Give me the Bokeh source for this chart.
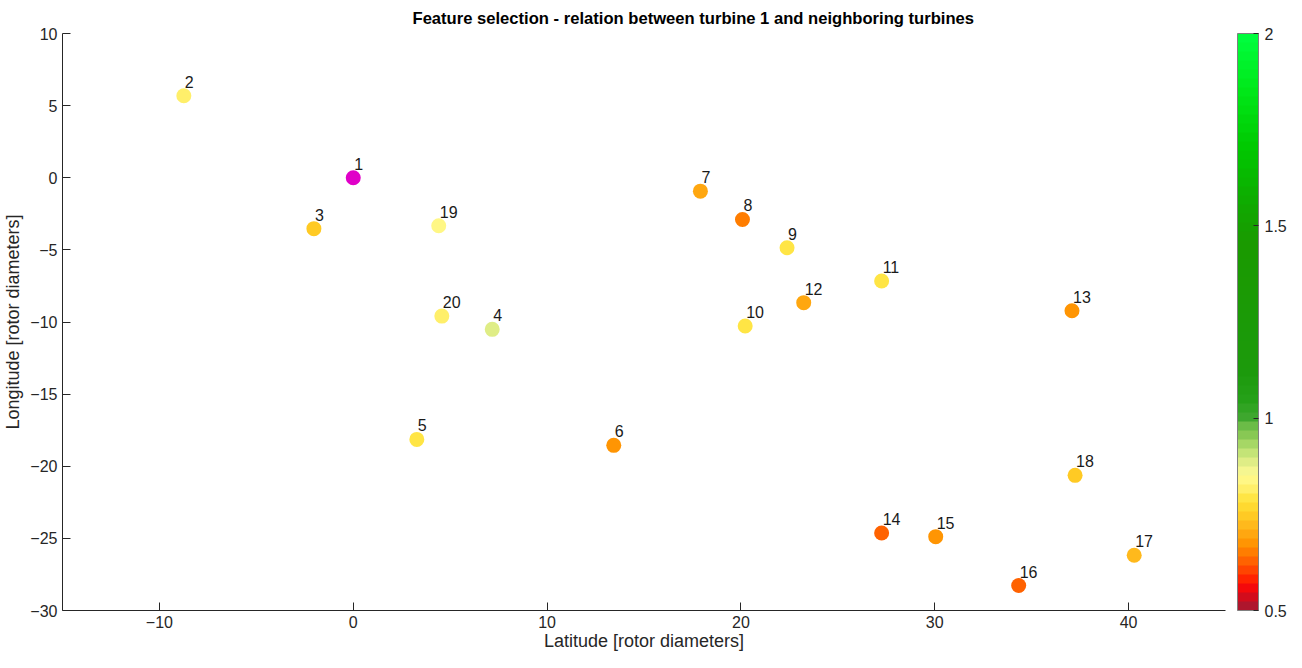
import numpy as np
from bokeh.plotting import figure
from bokeh.models import ColumnDataSource, LinearColorMapper, ColorBar, FixedTicker, Range1d
from bokeh.core.properties import value
from bokeh.embed import file_html
from bokeh.resources import INLINE

# ---- data ----
turbines = [str(i) for i in range(1, 21)]
latitude = [0.0, -8.74, -2.03, 7.17, 3.28, 13.44, 17.91, 20.08, 22.38, 20.22,
            27.26, 23.24, 37.08, 27.26, 30.05, 34.33, 40.29, 37.24, 4.41, 4.57]
longitude = [0.0, 5.68, -3.53, -10.51, -18.14, -18.55, -0.93, -2.89, -4.85, -10.28,
             -7.16, -8.66, -9.22, -24.63, -24.88, -28.27, -26.17, -20.63, -3.33, -9.59]
relation = [np.nan, 0.82, 0.74, 0.885, 0.80, 0.67, 0.70, 0.65, 0.79, 0.80,
            0.79, 0.70, 0.68, 0.63, 0.68, 0.63, 0.72, 0.75, 0.84, 0.815]
cbar_ticks = [0.5, 1, 1.5, 2]

# ---- colormap (64 levels) ----
anchors = [
    (0.50, "#9e1a35"), (0.53, "#c81020"), (0.55, "#f00010"), (0.58, "#ff2000"),
    (0.61, "#ff4a00"), (0.64, "#ff7000"), (0.67, "#ff9000"), (0.70, "#ffa810"),
    (0.73, "#ffbe20"), (0.76, "#ffd428"), (0.79, "#ffe440"), (0.82, "#fff170"),
    (0.85, "#fffa90"), (0.87, "#f0f490"), (0.89, "#dcec84"), (0.92, "#b8e070"),
    (0.95, "#90cc58"), (0.98, "#6cbc48"), (1.00, "#40a830"), (1.05, "#25a018"),
    (1.12, "#1c9a0c"), (1.45, "#1a9a00"), (1.55, "#10a800"), (1.70, "#00c800"),
    (1.85, "#00e818"), (2.00, "#00ff40"),
]
def hex2rgb(h):
    return np.array([int(h[i:i + 2], 16) for i in (1, 3, 5)], dtype=float)
av = np.array([a[0] for a in anchors])
ac = np.array([hex2rgb(a[1]) for a in anchors])
n = 64
centers = 0.5 + (np.arange(n) + 0.5) * 1.5 / n
palette = []
for c in centers:
    rgb = [np.interp(c, av, ac[:, k]) for k in range(3)]
    palette.append("#%02x%02x%02x" % tuple(int(round(v)) for v in rgb))

mapper = LinearColorMapper(palette=palette, low=0.5, high=2.0, nan_color="#e000c8")

src = ColumnDataSource(dict(x=latitude, y=longitude, v=relation, t=turbines))

FONT = "Liberation Sans"
p = figure(frame_width=1163, frame_height=577, output_backend="svg", toolbar_location=None,
           x_range=Range1d(-15, 45), y_range=Range1d(-30, 10),
           min_border_left=55, min_border_top=26, min_border_bottom=40, min_border_right=68)
p.title.text = "Feature selection - relation between turbine 1 and neighboring turbines"
p.title.align = "left"
p.title.offset = 350
p.title.text_font = FONT
p.title.text_font_size = "16.6px"
p.title.text_font_style = "bold"
p.title.text_color = "#000000"
p.title.standoff = 12
p.outline_line_color = None
p.grid.visible = False

for ax in (p.xaxis[0], p.yaxis[0]):
    ax.major_tick_in = 8
    ax.major_tick_out = 0
    ax.minor_tick_line_color = None
    ax.axis_line_color = "#262626"
    ax.major_tick_line_color = "#262626"
    ax.major_label_text_font = FONT
    ax.major_label_text_font_size = "16px"
    ax.major_label_text_color = "#262626"
    ax.axis_label_text_font = FONT
    ax.axis_label_text_font_size = "18px"
    ax.axis_label_text_font_style = "normal"
    ax.axis_label_text_color = "#262626"
p.xaxis.ticker = FixedTicker(ticks=[-10, 0, 10, 20, 30, 40])
p.yaxis.ticker = FixedTicker(ticks=[10, 5, 0, -5, -10, -15, -20, -25, -30])
p.xaxis.axis_label = "Latitude [rotor diameters]"
p.yaxis.axis_label = "Longitude [rotor diameters]"
p.xaxis.major_label_standoff = 5
p.xaxis.axis_label_standoff = 0
p.yaxis.major_label_standoff = 5
p.yaxis.axis_label_standoff = 4

p.scatter("x", "y", source=src, size=15,
          fill_color={"field": "v", "transform": mapper}, line_color=None)
p.text("x", "y", text="t", source=src, x_offset=1, y_offset=-14,
       text_font=value(FONT), text_font_size="16px", text_color="#1a1a1a",
       text_align="left", text_baseline="alphabetic")

cb = ColorBar(color_mapper=mapper, ticker=FixedTicker(ticks=cbar_ticks),
              location=(1175, 0), width=21, padding=0, margin=0, height=577,
              major_label_text_font=FONT, major_label_text_font_size="16px",
              major_label_text_color="#262626",
              major_tick_line_color="#262626", major_tick_in=5, major_tick_out=0,
              bar_line_color="#808080", bar_line_width=1,
              background_fill_color=None, border_line_color=None,
              label_standoff=6)
p.add_layout(cb, "center")

open("out.html", "w").write(file_html(p, INLINE))
